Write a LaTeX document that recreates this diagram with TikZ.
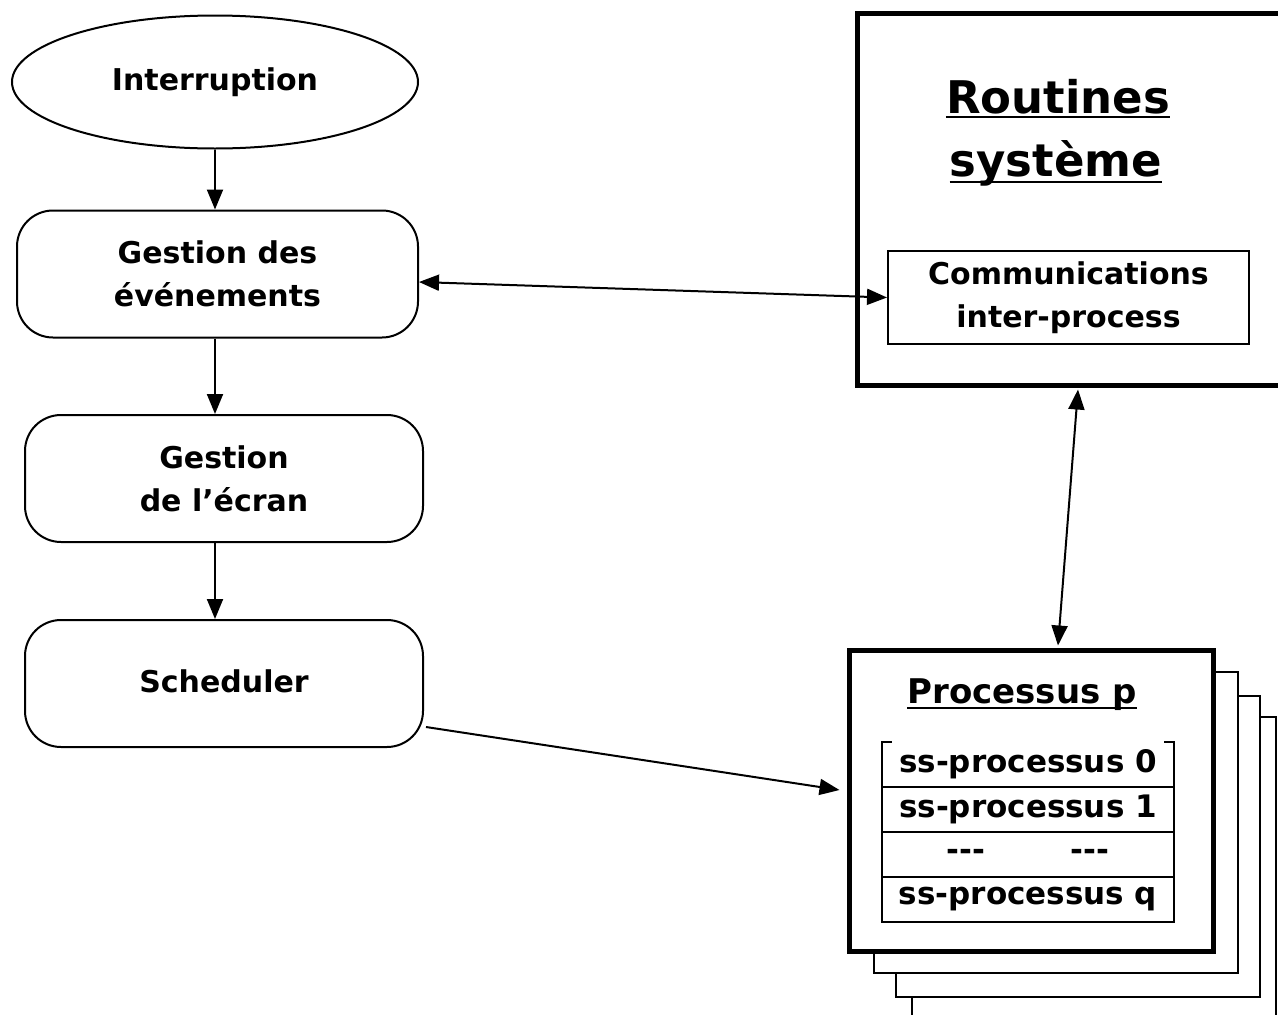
\documentclass[tikz,border=0pt]{standalone}
\usepackage{fontspec}
\setmainfont{DejaVu Sans}
\usetikzlibrary{shapes.geometric,arrows.meta}
\begin{document}
\begin{tikzpicture}[x=1pt,y=-1pt,
  every node/.style={font=\fontsize{30}{43}\selectfont\bfseries, align=center, inner sep=0pt},
  flow/.style={draw, line width=2pt, rounded corners=36pt, minimum height=127pt},
  arr/.style={line width=2pt, -{Triangle[length=20pt,width=16pt]}},
  darr/.style={line width=2pt, {Triangle[length=20pt,width=16pt]}-{Triangle[length=20pt,width=16pt]}},
  shadowbox/.style={draw, line width=2pt, fill=white, minimum width=364pt, minimum height=301pt},
  titletext/.style={font=\fontsize{45}{63}\selectfont\bfseries, anchor=base},
  rowbox/.style={minimum width=292pt, minimum height=45pt, font=\fontsize{31}{40}\selectfont\bfseries},
  uline/.style={line width=2pt},
  tline/.style={line width=2pt}
]
\useasboundingbox (0,0) rectangle (1278,1015);

% left flow
\node[draw, ellipse, line width=2pt, minimum width=406pt, minimum height=133pt] (int) at (215,82) {Interruption};
\node[flow, minimum width=401pt] (ge) at (217.5,274) {Gestion des\\événements};
\node[flow, minimum width=398pt] (gec) at (224,478.5) {Gestion\\de l’écran};
\node[flow, minimum width=398pt] (sch) at (224,683.5) {\raisebox{5pt}{Scheduler}};

% routines systeme
\node[draw, line width=5pt, minimum width=428pt, minimum height=372pt] (rb) at (1071,199) {};
\node[titletext] (r1) at (1058,113) {Routines};
\node[titletext] (r2) at (1056,176) {système};
\draw[uline] ([yshift=-4pt]r1.base west) -- ([yshift=-4pt]r1.base east);
\draw[uline] ([yshift=-6pt]r2.base west) -- ([yshift=-6pt]r2.base east);
\node[draw, line width=2pt, minimum width=361pt, minimum height=93pt] (comm) at (1068.5,297.5) {Communications\\inter-process};

% processus stack
\node[shadowbox] (s3) at (1094,867.5) {};
\node[shadowbox] (s2) at (1078,846.5) {};
\node[shadowbox] (s1) at (1056,822.5) {};
\node[shadowbox, line width=5pt] (pp) at (1031,800.5) {};
\node[font=\fontsize{34}{40}\selectfont\bfseries, anchor=base] (ptitle) at (1022,703) {Processus p};
\draw[uline] ([yshift=-5pt]ptitle.base west) -- ([yshift=-5pt]ptitle.base east);

\node[rowbox] (q0) at (1028,764.5) {ss-processus 0};
\node[rowbox] (q1) at (1028,809.5) {ss-processus 1};
\node[rowbox] (q2) at (1028,854.5) {-{}-{}-\hspace{85pt}-{}-{}-};
\node[rowbox] (q3) at (1028,899.5) {ss-processus q};
\draw[tline] ([xshift=10pt]q0.north west) -- (q0.north west) -- (q3.south west) -- (q3.south east) -- (q0.north east) -- ([xshift=-10pt]q0.north east);
\draw[tline] (q0.south west) -- (q0.south east);
\draw[tline] (q1.south west) -- (q1.south east);
\draw[tline] (q2.south west) -- (q2.south east);

% connectors
\draw[arr] (int.south) -- (int.south |- ge.north);
\draw[arr] (int.south |- ge.south) -- (int.south |- gec.north);
\draw[arr] (int.south |- gec.south) -- (int.south |- sch.north);
\draw[darr] ([yshift=-8pt]ge.east) -- (comm.west);
\draw[darr] ([xshift=7pt,yshift=-2pt]rb.south) -- ([xshift=27pt,yshift=2pt]pp.north);
\draw[arr] ([xshift=2pt,yshift=-43.5pt]sch.east) -- ([xshift=-7pt,yshift=10.5pt]pp.west);
\end{tikzpicture}
\end{document}
